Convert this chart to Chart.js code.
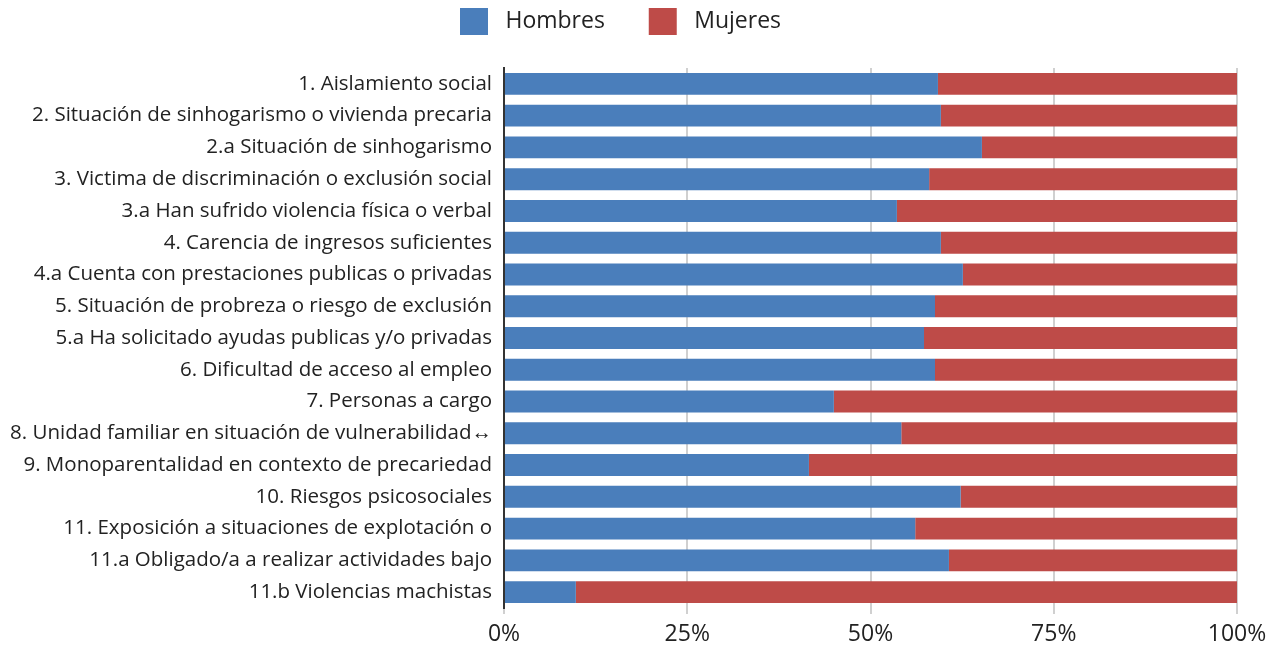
<!DOCTYPE html>
<html>
<head>
<meta charset="utf-8">
<script src="https://cdn.jsdelivr.net/npm/chart.js@4"></script>
<style>
  html, body { margin: 0; padding: 0; background: #fff; }
  #wrap { width: 1282px; height: 651px; }
</style>
</head>
<body>
<div id="wrap"><canvas id="myChart" width="1282" height="651"></canvas></div>
<script>
const categories = [
    '1. Aislamiento social',
    '2. Situación de sinhogarismo o vivienda precaria',
    '2.a Situación de sinhogarismo',
    '3. Victima de discriminación o exclusión social',
    '3.a Han sufrido violencia física o verbal',
    '4. Carencia de ingresos suficientes',
    '4.a Cuenta con prestaciones publicas o privadas',
    '5. Situación de probreza o riesgo de exclusión',
    '5.a Ha solicitado ayudas publicas y/o privadas',
    '6. Dificultad de acceso al empleo',
    '7. Personas a cargo',
    '8. Unidad familiar en situación de vulnerabilidad\u2194',
    '9. Monoparentalidad en contexto de precariedad',
    '10. Riesgos psicosociales',
    '11. Exposición a situaciones de explotación o',
    '11.a Obligado/a a realizar actividades bajo',
    '11.b Violencias machistas'
];
const hombres = [59.2, 59.6, 65.2, 58.0, 53.6, 59.6, 62.6, 58.8, 57.3, 58.8, 45.0, 54.2, 41.6, 62.3, 56.1, 60.7, 9.8];
const mujeres = [40.8, 40.4, 34.8, 42.0, 46.4, 40.4, 37.4, 41.2, 42.7, 41.2, 55.0, 45.8, 58.4, 37.7, 43.9, 39.3, 90.2];
const seriesNames = ['Hombres', 'Mujeres'];
const seriesColors = ['#4a7ebb', '#be4b48'];
const xTicks = [0, 25, 50, 75, 100];

const fontFamily = '"Open Sans", sans-serif';

// fixed legend block height so the plot starts where the original does
const legendGap = {
    id: 'legendGap',
    beforeInit(chart) {
        const fit = chart.legend.fit;
        chart.legend.fit = function () {
            fit.bind(chart.legend)();
            this.height = 68;
        };
    }
};

const canvas = document.getElementById('myChart');
window.myChart = new Chart(canvas.getContext('2d'), {
    type: 'bar',
    data: {
        labels: categories,
        datasets: [hombres, mujeres].map((vals, i) => ({
            label: seriesNames[i],
            data: vals,
            backgroundColor: seriesColors[i],
            borderWidth: 0,
            categoryPercentage: 1,
            barPercentage: 0.69
        }))
    },
    options: {
        indexAxis: 'y',
        responsive: false,
        animation: false,
        layout: { padding: { left: 4, right: 45, top: 0, bottom: 2 } },
        plugins: {
            legend: {
                position: 'top',
                labels: {
                    boxWidth: 28,
                    boxHeight: 27,
                    padding: 8,
                    color: '#222',
                    font: { family: fontFamily, size: 23 },
                    generateLabels: chart => Chart.defaults.plugins.legend.labels.generateLabels(chart)
                        .map((item, i) => ({ ...item, text: ' ' + item.text + (i === 0 ? '      ' : '') }))
                }
            },
            tooltip: { enabled: false }
        },
        scales: {
            x: {
                stacked: true,
                min: 0,
                max: 100,
                afterBuildTicks: axis => { axis.ticks = xTicks.map(v => ({ value: v })); },
                afterFit: axis => { axis.height = 41; },
                ticks: {
                    color: '#222',
                    padding: 7,
                    maxRotation: 0,
                    font: { family: fontFamily, size: 23 },
                    callback: v => v + '%'
                },
                grid: { color: '#d0d0d0', lineWidth: 2, tickLength: 6 },
                border: { display: false }
            },
            y: {
                stacked: true,
                afterFit: axis => { axis.width = 500; },
                ticks: {
                    color: '#222',
                    padding: 4,
                    autoSkip: false,
                    font: { family: fontFamily, size: 20.5 }
                },
                grid: { display: false },
                border: { display: true, color: '#333', width: 2 }
            }
        }
    },
    plugins: [legendGap]
});
</script>
</body>
</html>
